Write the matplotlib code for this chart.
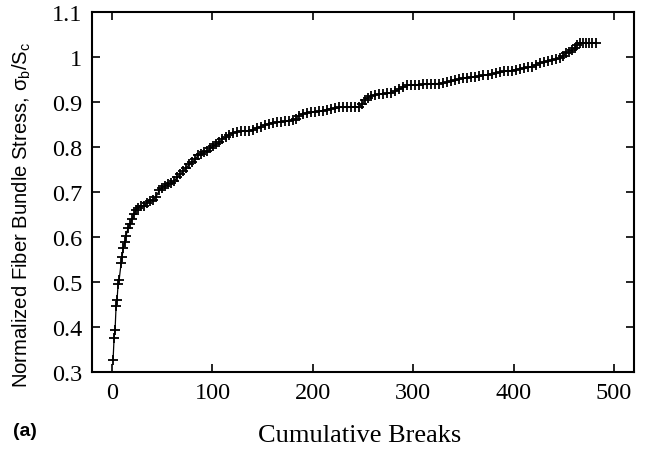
import matplotlib
matplotlib.use("Agg")
import matplotlib.pyplot as plt

# cumulative breaks vs normalized bundle stress
breaks = [1, 2, 3, 4, 5, 6, 7, 9, 10, 11, 13, 14, 16, 18, 20, 22, 24, 26, 29, 32,
          35, 38, 41, 44, 47, 50, 53, 56, 59, 62, 65, 68, 71, 74, 77, 80, 83, 86, 89, 92,
          95, 98, 101, 104, 107, 110, 113, 116, 120, 124, 128, 132, 136, 140, 144, 148,
          152, 156, 160, 164, 168, 172, 176, 180, 183, 186, 190, 194, 198, 202, 206, 210,
          214, 218, 222, 226, 230, 234, 238, 242, 246, 249, 252, 255, 258, 262, 266, 270,
          274, 278, 282, 286, 290, 294, 298, 302, 306, 310, 314, 318, 322, 326, 330, 334,
          338, 342, 346, 350, 354, 358, 362, 366, 370, 374, 378, 382, 386, 390, 394, 398,
          402, 406, 410, 414, 418, 422, 426, 430, 434, 438, 442, 446, 449, 452, 455, 458,
          461, 463, 466, 469, 472, 475, 478, 482]
stress = [0.327, 0.376, 0.394, 0.447, 0.461, 0.496, 0.504, 0.542, 0.555, 0.575, 0.590,
          0.603, 0.621, 0.630, 0.640, 0.652, 0.661, 0.665, 0.668, 0.670, 0.676, 0.681,
          0.683, 0.690, 0.704, 0.710, 0.714, 0.717, 0.720, 0.725, 0.733, 0.740, 0.746,
          0.754, 0.762, 0.766, 0.774, 0.782, 0.785, 0.789, 0.792, 0.797, 0.802, 0.807,
          0.811, 0.818, 0.822, 0.827, 0.831, 0.834, 0.835, 0.835, 0.836, 0.838, 0.842,
          0.845, 0.849, 0.852, 0.854, 0.855, 0.856, 0.857, 0.858, 0.860, 0.862, 0.870,
          0.874, 0.876, 0.877, 0.878, 0.879, 0.881, 0.883, 0.885, 0.886, 0.888, 0.888,
          0.888, 0.888, 0.889, 0.890, 0.895, 0.905, 0.910, 0.913, 0.916, 0.918, 0.918,
          0.919, 0.920, 0.924, 0.928, 0.933, 0.937, 0.938, 0.938, 0.938, 0.939, 0.939,
          0.940, 0.941, 0.941, 0.942, 0.944, 0.946, 0.948, 0.951, 0.953, 0.954, 0.955,
          0.955, 0.957, 0.959, 0.961, 0.962, 0.964, 0.966, 0.968, 0.969, 0.970, 0.972,
          0.973, 0.975, 0.977, 0.978, 0.982, 0.987, 0.989, 0.991, 0.993, 0.995, 0.997,
          1.002, 1.008, 1.012, 1.016, 1.021, 1.026, 1.031, 1.032, 1.032, 1.032, 1.032,
          1.032]

xticks = [0, 100, 200, 300, 400, 500]
yticks = [0.3, 0.4, 0.5, 0.6, 0.7, 0.8, 0.9, 1.0, 1.1]
ytick_labels = ["0.3", "0.4", "0.5", "0.6", "0.7", "0.8", "0.9", "1", "1.1"]

plt.rcParams["mathtext.fontset"] = "custom"
plt.rcParams["mathtext.rm"] = "Liberation Sans"
plt.rcParams["mathtext.it"] = "Liberation Sans:italic"

fig = plt.figure(figsize=(6.47, 4.52), dpi=100)
ax = fig.add_axes([0.1422, 0.1748, 0.8378, 0.7964])

ax.plot(breaks, stress, color="black", lw=0.9, marker="+", ms=7.5, mew=1.3)

ax.set_xlim(-20, 520)
ax.set_ylim(0.3, 1.1)
ax.set_xticks(xticks)
ax.set_yticks(yticks)
ax.set_yticklabels(ytick_labels)
ax.tick_params(direction="in", length=6, width=1.2, top=True, right=True, pad=7)
for lab in ax.get_xticklabels() + ax.get_yticklabels():
    lab.set_fontfamily("Liberation Serif")
    lab.set_fontsize(17.5)
for s in ax.spines.values():
    s.set_linewidth(1.5)

fig.text(0.034, 0.524, r"Normalized Fiber Bundle Stress, $\mathregular{\sigma_b/S_c}$",
         rotation=90, ha="center", va="center", fontsize=14.6, family="Liberation Sans")
fig.text(0.556, 0.035, "Cumulative Breaks", ha="center", va="center",
         fontsize=19, family="Liberation Serif")
fig.text(0.02, 0.046, "(a)", ha="left", va="center", fontsize=14,
         fontweight="bold", family="Liberation Sans")

fig.savefig("out.png", dpi=100)
